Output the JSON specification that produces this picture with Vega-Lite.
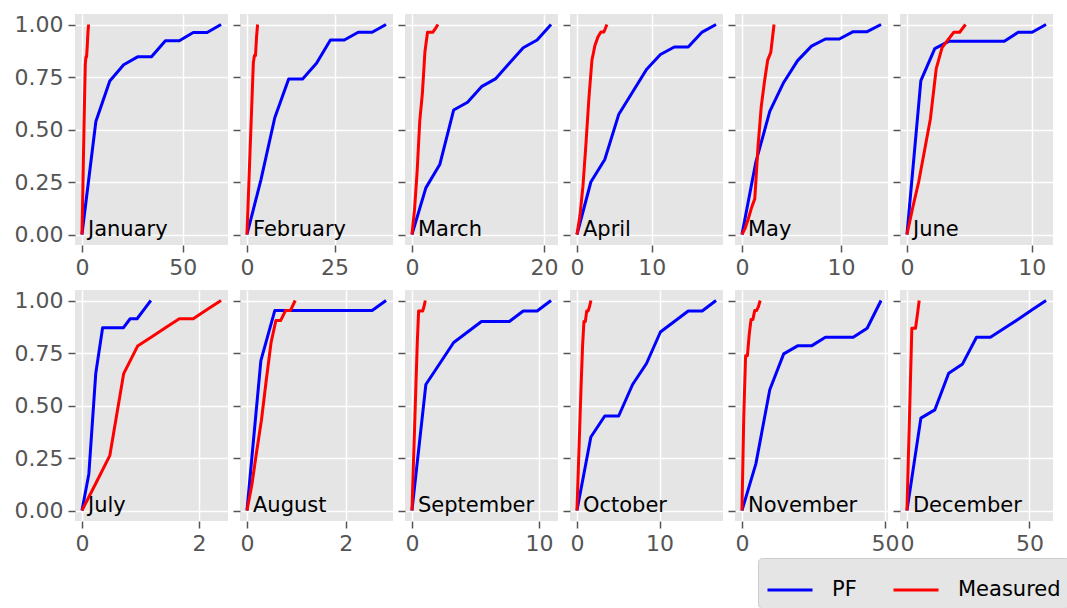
{
"$schema": "https://vega.github.io/schema/vega-lite/v6.json",
"padding": {"left": 14, "top": 13, "right": 0, "bottom": 0},
"background": "white",
"data": {"values": [
{"m":"January","s":"PF","x":0,"y":0},{"m":"January","s":"PF","x":6.9,"y":0.538},{"m":"January","s":"PF","x":13.8,"y":0.731},{"m":"January","s":"PF","x":20.7,"y":0.808},{"m":"January","s":"PF","x":27.6,"y":0.846},{"m":"January","s":"PF","x":34.5,"y":0.846},{"m":"January","s":"PF","x":41.4,"y":0.923},{"m":"January","s":"PF","x":48.3,"y":0.923},{"m":"January","s":"PF","x":55.2,"y":0.962},{"m":"January","s":"PF","x":62.1,"y":0.962},{"m":"January","s":"PF","x":69,"y":1},
{"m":"February","s":"PF","x":0,"y":0},{"m":"February","s":"PF","x":3.97,"y":0.259},{"m":"February","s":"PF","x":7.94,"y":0.556},{"m":"February","s":"PF","x":11.91,"y":0.741},{"m":"February","s":"PF","x":15.88,"y":0.741},{"m":"February","s":"PF","x":19.85,"y":0.815},{"m":"February","s":"PF","x":23.82,"y":0.926},{"m":"February","s":"PF","x":27.79,"y":0.926},{"m":"February","s":"PF","x":31.76,"y":0.963},{"m":"February","s":"PF","x":35.73,"y":0.963},{"m":"February","s":"PF","x":39.7,"y":1},
{"m":"March","s":"PF","x":0,"y":0},{"m":"March","s":"PF","x":2.106,"y":0.222},{"m":"March","s":"PF","x":4.212,"y":0.333},{"m":"March","s":"PF","x":6.318,"y":0.593},{"m":"March","s":"PF","x":8.424,"y":0.63},{"m":"March","s":"PF","x":10.53,"y":0.704},{"m":"March","s":"PF","x":12.636,"y":0.741},{"m":"March","s":"PF","x":14.742,"y":0.815},{"m":"March","s":"PF","x":16.848,"y":0.889},{"m":"March","s":"PF","x":18.954,"y":0.926},{"m":"March","s":"PF","x":21.06,"y":1},
{"m":"April","s":"PF","x":0,"y":0},{"m":"April","s":"PF","x":1.858,"y":0.25},{"m":"April","s":"PF","x":3.716,"y":0.357},{"m":"April","s":"PF","x":5.574,"y":0.571},{"m":"April","s":"PF","x":7.432,"y":0.679},{"m":"April","s":"PF","x":9.29,"y":0.786},{"m":"April","s":"PF","x":11.148,"y":0.857},{"m":"April","s":"PF","x":13.006,"y":0.893},{"m":"April","s":"PF","x":14.864,"y":0.893},{"m":"April","s":"PF","x":16.722,"y":0.964},{"m":"April","s":"PF","x":18.58,"y":1},
{"m":"May","s":"PF","x":0,"y":0},{"m":"May","s":"PF","x":1.405,"y":0.345},{"m":"May","s":"PF","x":2.81,"y":0.586},{"m":"May","s":"PF","x":4.215,"y":0.724},{"m":"May","s":"PF","x":5.62,"y":0.828},{"m":"May","s":"PF","x":7.025,"y":0.897},{"m":"May","s":"PF","x":8.43,"y":0.931},{"m":"May","s":"PF","x":9.835,"y":0.931},{"m":"May","s":"PF","x":11.24,"y":0.966},{"m":"May","s":"PF","x":12.645,"y":0.966},{"m":"May","s":"PF","x":14.05,"y":1},
{"m":"June","s":"PF","x":0,"y":0},{"m":"June","s":"PF","x":1.114,"y":0.733},{"m":"June","s":"PF","x":2.228,"y":0.885},{"m":"June","s":"PF","x":3.342,"y":0.92},{"m":"June","s":"PF","x":4.456,"y":0.92},{"m":"June","s":"PF","x":5.57,"y":0.92},{"m":"June","s":"PF","x":6.684,"y":0.92},{"m":"June","s":"PF","x":7.798,"y":0.92},{"m":"June","s":"PF","x":8.912,"y":0.963},{"m":"June","s":"PF","x":10.026,"y":0.963},{"m":"June","s":"PF","x":11.14,"y":1},
{"m":"July","s":"PF","x":0,"y":0},{"m":"July","s":"PF","x":0.1176,"y":0.174},{"m":"July","s":"PF","x":0.2352,"y":0.652},{"m":"July","s":"PF","x":0.3528,"y":0.87},{"m":"July","s":"PF","x":0.4704,"y":0.87},{"m":"July","s":"PF","x":0.588,"y":0.87},{"m":"July","s":"PF","x":0.7056,"y":0.87},{"m":"July","s":"PF","x":0.8232,"y":0.913},{"m":"July","s":"PF","x":0.9408,"y":0.913},{"m":"July","s":"PF","x":1.0584,"y":0.957},{"m":"July","s":"PF","x":1.176,"y":1},
{"m":"August","s":"PF","x":0,"y":0},{"m":"August","s":"PF","x":0.2815,"y":0.714},{"m":"August","s":"PF","x":0.563,"y":0.952},{"m":"August","s":"PF","x":0.8445,"y":0.952},{"m":"August","s":"PF","x":1.126,"y":0.952},{"m":"August","s":"PF","x":1.4075,"y":0.952},{"m":"August","s":"PF","x":1.689,"y":0.952},{"m":"August","s":"PF","x":1.9705,"y":0.952},{"m":"August","s":"PF","x":2.252,"y":0.952},{"m":"August","s":"PF","x":2.5335,"y":0.952},{"m":"August","s":"PF","x":2.815,"y":1},
{"m":"September","s":"PF","x":0,"y":0},{"m":"September","s":"PF","x":1.094,"y":0.6},{"m":"September","s":"PF","x":2.188,"y":0.7},{"m":"September","s":"PF","x":3.282,"y":0.8},{"m":"September","s":"PF","x":4.376,"y":0.85},{"m":"September","s":"PF","x":5.47,"y":0.9},{"m":"September","s":"PF","x":6.564,"y":0.9},{"m":"September","s":"PF","x":7.658,"y":0.9},{"m":"September","s":"PF","x":8.752,"y":0.95},{"m":"September","s":"PF","x":9.846,"y":0.95},{"m":"September","s":"PF","x":10.94,"y":1},
{"m":"October","s":"PF","x":0,"y":0},{"m":"October","s":"PF","x":1.685,"y":0.35},{"m":"October","s":"PF","x":3.37,"y":0.45},{"m":"October","s":"PF","x":5.055,"y":0.45},{"m":"October","s":"PF","x":6.74,"y":0.6},{"m":"October","s":"PF","x":8.425,"y":0.7},{"m":"October","s":"PF","x":10.11,"y":0.85},{"m":"October","s":"PF","x":11.795,"y":0.9},{"m":"October","s":"PF","x":13.48,"y":0.95},{"m":"October","s":"PF","x":15.165,"y":0.95},{"m":"October","s":"PF","x":16.85,"y":1},
{"m":"November","s":"PF","x":0,"y":0},{"m":"November","s":"PF","x":4.86,"y":0.222},{"m":"November","s":"PF","x":9.72,"y":0.575},{"m":"November","s":"PF","x":14.58,"y":0.746},{"m":"November","s":"PF","x":19.44,"y":0.784},{"m":"November","s":"PF","x":24.3,"y":0.784},{"m":"November","s":"PF","x":29.16,"y":0.825},{"m":"November","s":"PF","x":34.02,"y":0.825},{"m":"November","s":"PF","x":38.88,"y":0.825},{"m":"November","s":"PF","x":43.74,"y":0.868},{"m":"November","s":"PF","x":48.6,"y":1},
{"m":"December","s":"PF","x":0,"y":0},{"m":"December","s":"PF","x":5.676,"y":0.44},{"m":"December","s":"PF","x":11.352,"y":0.479},{"m":"December","s":"PF","x":17.028,"y":0.654},{"m":"December","s":"PF","x":22.704,"y":0.698},{"m":"December","s":"PF","x":28.38,"y":0.825},{"m":"December","s":"PF","x":34.056,"y":0.825},{"m":"December","s":"PF","x":39.732,"y":0.868},{"m":"December","s":"PF","x":45.408,"y":0.911},{"m":"December","s":"PF","x":51.084,"y":0.956},{"m":"December","s":"PF","x":56.76,"y":1},
{"m":"January","s":"Measured","x":0,"y":0},{"m":"January","s":"Measured","x":0.33,"y":0.15},{"m":"January","s":"Measured","x":0.66,"y":0.33},{"m":"January","s":"Measured","x":0.99,"y":0.5},{"m":"January","s":"Measured","x":1.32,"y":0.66},{"m":"January","s":"Measured","x":1.65,"y":0.81},{"m":"January","s":"Measured","x":1.98,"y":0.846},{"m":"January","s":"Measured","x":2.31,"y":0.846},{"m":"January","s":"Measured","x":2.64,"y":0.9},{"m":"January","s":"Measured","x":2.97,"y":0.962},{"m":"January","s":"Measured","x":3.3,"y":1},
{"m":"February","s":"Measured","x":0,"y":0},{"m":"February","s":"Measured","x":0.304,"y":0.136},{"m":"February","s":"Measured","x":0.608,"y":0.273},{"m":"February","s":"Measured","x":0.912,"y":0.409},{"m":"February","s":"Measured","x":1.216,"y":0.545},{"m":"February","s":"Measured","x":1.52,"y":0.681},{"m":"February","s":"Measured","x":1.824,"y":0.818},{"m":"February","s":"Measured","x":2.128,"y":0.852},{"m":"February","s":"Measured","x":2.432,"y":0.852},{"m":"February","s":"Measured","x":2.736,"y":0.94},{"m":"February","s":"Measured","x":3.04,"y":1},
{"m":"March","s":"Measured","x":0,"y":0},{"m":"March","s":"Measured","x":0.393,"y":0.12},{"m":"March","s":"Measured","x":0.786,"y":0.3},{"m":"March","s":"Measured","x":1.179,"y":0.54},{"m":"March","s":"Measured","x":1.572,"y":0.67},{"m":"March","s":"Measured","x":1.965,"y":0.87},{"m":"March","s":"Measured","x":2.358,"y":0.963},{"m":"March","s":"Measured","x":2.751,"y":0.963},{"m":"March","s":"Measured","x":3.144,"y":0.963},{"m":"March","s":"Measured","x":3.537,"y":0.98},{"m":"March","s":"Measured","x":3.93,"y":1},
{"m":"April","s":"Measured","x":0,"y":0},{"m":"April","s":"Measured","x":0.4,"y":0.09},{"m":"April","s":"Measured","x":0.8,"y":0.23},{"m":"April","s":"Measured","x":1.2,"y":0.43},{"m":"April","s":"Measured","x":1.6,"y":0.65},{"m":"April","s":"Measured","x":2.0,"y":0.83},{"m":"April","s":"Measured","x":2.4,"y":0.9},{"m":"April","s":"Measured","x":2.8,"y":0.94},{"m":"April","s":"Measured","x":3.2,"y":0.964},{"m":"April","s":"Measured","x":3.6,"y":0.964},{"m":"April","s":"Measured","x":4.0,"y":1},
{"m":"May","s":"Measured","x":0,"y":0},{"m":"May","s":"Measured","x":0.324,"y":0.03},{"m":"May","s":"Measured","x":0.648,"y":0.076},{"m":"May","s":"Measured","x":0.972,"y":0.128},{"m":"May","s":"Measured","x":1.296,"y":0.17},{"m":"May","s":"Measured","x":1.62,"y":0.417},{"m":"May","s":"Measured","x":1.944,"y":0.607},{"m":"May","s":"Measured","x":2.268,"y":0.726},{"m":"May","s":"Measured","x":2.592,"y":0.829},{"m":"May","s":"Measured","x":2.916,"y":0.868},{"m":"May","s":"Measured","x":3.24,"y":1},
{"m":"June","s":"Measured","x":0,"y":0},{"m":"June","s":"Measured","x":0.469,"y":0.13},{"m":"June","s":"Measured","x":0.938,"y":0.25},{"m":"June","s":"Measured","x":1.407,"y":0.4},{"m":"June","s":"Measured","x":1.876,"y":0.55},{"m":"June","s":"Measured","x":2.345,"y":0.79},{"m":"June","s":"Measured","x":2.814,"y":0.89},{"m":"June","s":"Measured","x":3.283,"y":0.927},{"m":"June","s":"Measured","x":3.752,"y":0.963},{"m":"June","s":"Measured","x":4.221,"y":0.963},{"m":"June","s":"Measured","x":4.69,"y":1},
{"m":"July","s":"Measured","x":0,"y":0},{"m":"July","s":"Measured","x":0.2375,"y":0.13},{"m":"July","s":"Measured","x":0.475,"y":0.261},{"m":"July","s":"Measured","x":0.7125,"y":0.652},{"m":"July","s":"Measured","x":0.95,"y":0.783},{"m":"July","s":"Measured","x":1.1875,"y":0.826},{"m":"July","s":"Measured","x":1.425,"y":0.87},{"m":"July","s":"Measured","x":1.6625,"y":0.913},{"m":"July","s":"Measured","x":1.9,"y":0.913},{"m":"July","s":"Measured","x":2.1375,"y":0.957},{"m":"July","s":"Measured","x":2.375,"y":1},
{"m":"August","s":"Measured","x":0,"y":0},{"m":"August","s":"Measured","x":0.0976,"y":0.12},{"m":"August","s":"Measured","x":0.1952,"y":0.28},{"m":"August","s":"Measured","x":0.2928,"y":0.43},{"m":"August","s":"Measured","x":0.3904,"y":0.62},{"m":"August","s":"Measured","x":0.488,"y":0.8},{"m":"August","s":"Measured","x":0.5856,"y":0.905},{"m":"August","s":"Measured","x":0.6832,"y":0.905},{"m":"August","s":"Measured","x":0.7808,"y":0.952},{"m":"August","s":"Measured","x":0.8784,"y":0.952},{"m":"August","s":"Measured","x":0.976,"y":1},
{"m":"September","s":"Measured","x":0,"y":0},{"m":"September","s":"Measured","x":0.105,"y":0.2},{"m":"September","s":"Measured","x":0.21,"y":0.4},{"m":"September","s":"Measured","x":0.315,"y":0.6},{"m":"September","s":"Measured","x":0.42,"y":0.8},{"m":"September","s":"Measured","x":0.525,"y":0.95},{"m":"September","s":"Measured","x":0.63,"y":0.95},{"m":"September","s":"Measured","x":0.735,"y":0.95},{"m":"September","s":"Measured","x":0.84,"y":0.95},{"m":"September","s":"Measured","x":0.945,"y":0.97},{"m":"September","s":"Measured","x":1.05,"y":1},
{"m":"October","s":"Measured","x":0,"y":0},{"m":"October","s":"Measured","x":0.169,"y":0.2},{"m":"October","s":"Measured","x":0.338,"y":0.4},{"m":"October","s":"Measured","x":0.507,"y":0.6},{"m":"October","s":"Measured","x":0.676,"y":0.78},{"m":"October","s":"Measured","x":0.845,"y":0.9},{"m":"October","s":"Measured","x":1.014,"y":0.9},{"m":"October","s":"Measured","x":1.183,"y":0.95},{"m":"October","s":"Measured","x":1.352,"y":0.95},{"m":"October","s":"Measured","x":1.521,"y":0.97},{"m":"October","s":"Measured","x":1.69,"y":1},
{"m":"November","s":"Measured","x":0,"y":0},{"m":"November","s":"Measured","x":0.637,"y":0.45},{"m":"November","s":"Measured","x":1.274,"y":0.737},{"m":"November","s":"Measured","x":1.911,"y":0.737},{"m":"November","s":"Measured","x":2.548,"y":0.84},{"m":"November","s":"Measured","x":3.185,"y":0.91},{"m":"November","s":"Measured","x":3.822,"y":0.91},{"m":"November","s":"Measured","x":4.459,"y":0.952},{"m":"November","s":"Measured","x":5.096,"y":0.952},{"m":"November","s":"Measured","x":5.733,"y":0.97},{"m":"November","s":"Measured","x":6.37,"y":1},
{"m":"December","s":"Measured","x":0,"y":0},{"m":"December","s":"Measured","x":0.5,"y":0.22},{"m":"December","s":"Measured","x":1.0,"y":0.43},{"m":"December","s":"Measured","x":1.5,"y":0.65},{"m":"December","s":"Measured","x":2.0,"y":0.868},{"m":"December","s":"Measured","x":2.5,"y":0.868},{"m":"December","s":"Measured","x":3.0,"y":0.868},{"m":"December","s":"Measured","x":3.5,"y":0.868},{"m":"December","s":"Measured","x":4.0,"y":0.91},{"m":"December","s":"Measured","x":4.5,"y":0.955},{"m":"December","s":"Measured","x":5.0,"y":1}
]},
"columns": 6,
"spacing": {"row": 45, "column": 12},
"bounds": "flush",
"concat": [
{"width":153,"height":231,"transform":[{"filter":"datum.m==='January'"}],"layer":[
 {"mark":{"type":"line","strokeWidth":3,"strokeJoin":"round"},"encoding":{
  "x":{"field":"x","type":"quantitative","scale":{"domain":[-3.45,72.45],"nice":false,"zero":false},"axis":{"values":[0,50]}},
  "y":{"field":"y","type":"quantitative","scale":{"domain":[-0.05,1.05],"nice":false},"axis":{"values":[0,0.25,0.5,0.75,1],"format":".2f"}},
  "color":{"field":"s","type":"nominal","scale":{"domain":["PF","Measured"],"range":["#0000FF","#FF0000"]},"legend":{"title":null,"orient":"none","legendX":683,"legendY":544,"direction":"horizontal"}}}},
 {"transform":[{"filter":"datum.s==='PF' && datum.x===0"}],"mark":{"type":"text","align":"left","baseline":"alphabetic","dx":6,"dy":1,"fontSize":21,"font":"DejaVu Sans","color":"black"},"encoding":{"x":{"field":"x","type":"quantitative"},"y":{"field":"y","type":"quantitative"},"text":{"field":"m"}}}]},
{"width":153,"height":231,"transform":[{"filter":"datum.m==='February'"}],"layer":[
 {"mark":{"type":"line","strokeWidth":3,"strokeJoin":"round"},"encoding":{
  "x":{"field":"x","type":"quantitative","scale":{"domain":[-1.985,41.685],"nice":false,"zero":false},"axis":{"values":[0,25]}},
  "y":{"field":"y","type":"quantitative","scale":{"domain":[-0.05,1.05],"nice":false},"axis":{"values":[0,0.25,0.5,0.75,1],"labels":false}},
  "color":{"field":"s","type":"nominal","scale":{"domain":["PF","Measured"],"range":["#0000FF","#FF0000"]},"legend":{"title":null,"orient":"none","legendX":683,"legendY":544,"direction":"horizontal"}}}},
 {"transform":[{"filter":"datum.s==='PF' && datum.x===0"}],"mark":{"type":"text","align":"left","baseline":"alphabetic","dx":6,"dy":1,"fontSize":21,"font":"DejaVu Sans","color":"black"},"encoding":{"x":{"field":"x","type":"quantitative"},"y":{"field":"y","type":"quantitative"},"text":{"field":"m"}}}]},
{"width":153,"height":231,"transform":[{"filter":"datum.m==='March'"}],"layer":[
 {"mark":{"type":"line","strokeWidth":3,"strokeJoin":"round"},"encoding":{
  "x":{"field":"x","type":"quantitative","scale":{"domain":[-1.053,22.113],"nice":false,"zero":false},"axis":{"values":[0,20]}},
  "y":{"field":"y","type":"quantitative","scale":{"domain":[-0.05,1.05],"nice":false},"axis":{"values":[0,0.25,0.5,0.75,1],"labels":false}},
  "color":{"field":"s","type":"nominal","scale":{"domain":["PF","Measured"],"range":["#0000FF","#FF0000"]},"legend":{"title":null,"orient":"none","legendX":683,"legendY":544,"direction":"horizontal"}}}},
 {"transform":[{"filter":"datum.s==='PF' && datum.x===0"}],"mark":{"type":"text","align":"left","baseline":"alphabetic","dx":6,"dy":1,"fontSize":21,"font":"DejaVu Sans","color":"black"},"encoding":{"x":{"field":"x","type":"quantitative"},"y":{"field":"y","type":"quantitative"},"text":{"field":"m"}}}]},
{"width":153,"height":231,"transform":[{"filter":"datum.m==='April'"}],"layer":[
 {"mark":{"type":"line","strokeWidth":3,"strokeJoin":"round"},"encoding":{
  "x":{"field":"x","type":"quantitative","scale":{"domain":[-0.929,19.509],"nice":false,"zero":false},"axis":{"values":[0,10]}},
  "y":{"field":"y","type":"quantitative","scale":{"domain":[-0.05,1.05],"nice":false},"axis":{"values":[0,0.25,0.5,0.75,1],"labels":false}},
  "color":{"field":"s","type":"nominal","scale":{"domain":["PF","Measured"],"range":["#0000FF","#FF0000"]},"legend":{"title":null,"orient":"none","legendX":683,"legendY":544,"direction":"horizontal"}}}},
 {"transform":[{"filter":"datum.s==='PF' && datum.x===0"}],"mark":{"type":"text","align":"left","baseline":"alphabetic","dx":6,"dy":1,"fontSize":21,"font":"DejaVu Sans","color":"black"},"encoding":{"x":{"field":"x","type":"quantitative"},"y":{"field":"y","type":"quantitative"},"text":{"field":"m"}}}]},
{"width":153,"height":231,"transform":[{"filter":"datum.m==='May'"}],"layer":[
 {"mark":{"type":"line","strokeWidth":3,"strokeJoin":"round"},"encoding":{
  "x":{"field":"x","type":"quantitative","scale":{"domain":[-0.7025,14.7525],"nice":false,"zero":false},"axis":{"values":[0,10]}},
  "y":{"field":"y","type":"quantitative","scale":{"domain":[-0.05,1.05],"nice":false},"axis":{"values":[0,0.25,0.5,0.75,1],"labels":false}},
  "color":{"field":"s","type":"nominal","scale":{"domain":["PF","Measured"],"range":["#0000FF","#FF0000"]},"legend":{"title":null,"orient":"none","legendX":683,"legendY":544,"direction":"horizontal"}}}},
 {"transform":[{"filter":"datum.s==='PF' && datum.x===0"}],"mark":{"type":"text","align":"left","baseline":"alphabetic","dx":6,"dy":1,"fontSize":21,"font":"DejaVu Sans","color":"black"},"encoding":{"x":{"field":"x","type":"quantitative"},"y":{"field":"y","type":"quantitative"},"text":{"field":"m"}}}]},
{"width":153,"height":231,"transform":[{"filter":"datum.m==='June'"}],"layer":[
 {"mark":{"type":"line","strokeWidth":3,"strokeJoin":"round"},"encoding":{
  "x":{"field":"x","type":"quantitative","scale":{"domain":[-0.557,11.697],"nice":false,"zero":false},"axis":{"values":[0,10]}},
  "y":{"field":"y","type":"quantitative","scale":{"domain":[-0.05,1.05],"nice":false},"axis":{"values":[0,0.25,0.5,0.75,1],"labels":false}},
  "color":{"field":"s","type":"nominal","scale":{"domain":["PF","Measured"],"range":["#0000FF","#FF0000"]},"legend":{"title":null,"orient":"none","legendX":683,"legendY":544,"direction":"horizontal"}}}},
 {"transform":[{"filter":"datum.s==='PF' && datum.x===0"}],"mark":{"type":"text","align":"left","baseline":"alphabetic","dx":6,"dy":1,"fontSize":21,"font":"DejaVu Sans","color":"black"},"encoding":{"x":{"field":"x","type":"quantitative"},"y":{"field":"y","type":"quantitative"},"text":{"field":"m"}}}]},
{"width":153,"height":231,"transform":[{"filter":"datum.m==='July'"}],"layer":[
 {"mark":{"type":"line","strokeWidth":3,"strokeJoin":"round"},"encoding":{
  "x":{"field":"x","type":"quantitative","scale":{"domain":[-0.119,2.494],"nice":false,"zero":false},"axis":{"values":[0,2],"format":"d"}},
  "y":{"field":"y","type":"quantitative","scale":{"domain":[-0.05,1.05],"nice":false},"axis":{"values":[0,0.25,0.5,0.75,1],"format":".2f"}},
  "color":{"field":"s","type":"nominal","scale":{"domain":["PF","Measured"],"range":["#0000FF","#FF0000"]},"legend":{"title":null,"orient":"none","legendX":683,"legendY":544,"direction":"horizontal"}}}},
 {"transform":[{"filter":"datum.s==='PF' && datum.x===0"}],"mark":{"type":"text","align":"left","baseline":"alphabetic","dx":6,"dy":1,"fontSize":21,"font":"DejaVu Sans","color":"black"},"encoding":{"x":{"field":"x","type":"quantitative"},"y":{"field":"y","type":"quantitative"},"text":{"field":"m"}}}]},
{"width":153,"height":231,"transform":[{"filter":"datum.m==='August'"}],"layer":[
 {"mark":{"type":"line","strokeWidth":3,"strokeJoin":"round"},"encoding":{
  "x":{"field":"x","type":"quantitative","scale":{"domain":[-0.141,2.956],"nice":false,"zero":false},"axis":{"values":[0,2],"format":"d"}},
  "y":{"field":"y","type":"quantitative","scale":{"domain":[-0.05,1.05],"nice":false},"axis":{"values":[0,0.25,0.5,0.75,1],"labels":false}},
  "color":{"field":"s","type":"nominal","scale":{"domain":["PF","Measured"],"range":["#0000FF","#FF0000"]},"legend":{"title":null,"orient":"none","legendX":683,"legendY":544,"direction":"horizontal"}}}},
 {"transform":[{"filter":"datum.s==='PF' && datum.x===0"}],"mark":{"type":"text","align":"left","baseline":"alphabetic","dx":6,"dy":1,"fontSize":21,"font":"DejaVu Sans","color":"black"},"encoding":{"x":{"field":"x","type":"quantitative"},"y":{"field":"y","type":"quantitative"},"text":{"field":"m"}}}]},
{"width":153,"height":231,"transform":[{"filter":"datum.m==='September'"}],"layer":[
 {"mark":{"type":"line","strokeWidth":3,"strokeJoin":"round"},"encoding":{
  "x":{"field":"x","type":"quantitative","scale":{"domain":[-0.547,11.487],"nice":false,"zero":false},"axis":{"values":[0,10]}},
  "y":{"field":"y","type":"quantitative","scale":{"domain":[-0.05,1.05],"nice":false},"axis":{"values":[0,0.25,0.5,0.75,1],"labels":false}},
  "color":{"field":"s","type":"nominal","scale":{"domain":["PF","Measured"],"range":["#0000FF","#FF0000"]},"legend":{"title":null,"orient":"none","legendX":683,"legendY":544,"direction":"horizontal"}}}},
 {"transform":[{"filter":"datum.s==='PF' && datum.x===0"}],"mark":{"type":"text","align":"left","baseline":"alphabetic","dx":6,"dy":1,"fontSize":21,"font":"DejaVu Sans","color":"black"},"encoding":{"x":{"field":"x","type":"quantitative"},"y":{"field":"y","type":"quantitative"},"text":{"field":"m"}}}]},
{"width":153,"height":231,"transform":[{"filter":"datum.m==='October'"}],"layer":[
 {"mark":{"type":"line","strokeWidth":3,"strokeJoin":"round"},"encoding":{
  "x":{"field":"x","type":"quantitative","scale":{"domain":[-0.8425,17.6925],"nice":false,"zero":false},"axis":{"values":[0,10]}},
  "y":{"field":"y","type":"quantitative","scale":{"domain":[-0.05,1.05],"nice":false},"axis":{"values":[0,0.25,0.5,0.75,1],"labels":false}},
  "color":{"field":"s","type":"nominal","scale":{"domain":["PF","Measured"],"range":["#0000FF","#FF0000"]},"legend":{"title":null,"orient":"none","legendX":683,"legendY":544,"direction":"horizontal"}}}},
 {"transform":[{"filter":"datum.s==='PF' && datum.x===0"}],"mark":{"type":"text","align":"left","baseline":"alphabetic","dx":6,"dy":1,"fontSize":21,"font":"DejaVu Sans","color":"black"},"encoding":{"x":{"field":"x","type":"quantitative"},"y":{"field":"y","type":"quantitative"},"text":{"field":"m"}}}]},
{"width":153,"height":231,"transform":[{"filter":"datum.m==='November'"}],"layer":[
 {"mark":{"type":"line","strokeWidth":3,"strokeJoin":"round"},"encoding":{
  "x":{"field":"x","type":"quantitative","scale":{"domain":[-2.43,51.03],"nice":false,"zero":false},"axis":{"values":[0,50]}},
  "y":{"field":"y","type":"quantitative","scale":{"domain":[-0.05,1.05],"nice":false},"axis":{"values":[0,0.25,0.5,0.75,1],"labels":false}},
  "color":{"field":"s","type":"nominal","scale":{"domain":["PF","Measured"],"range":["#0000FF","#FF0000"]},"legend":{"title":null,"orient":"none","legendX":683,"legendY":544,"direction":"horizontal"}}}},
 {"transform":[{"filter":"datum.s==='PF' && datum.x===0"}],"mark":{"type":"text","align":"left","baseline":"alphabetic","dx":6,"dy":1,"fontSize":21,"font":"DejaVu Sans","color":"black"},"encoding":{"x":{"field":"x","type":"quantitative"},"y":{"field":"y","type":"quantitative"},"text":{"field":"m"}}}]},
{"width":153,"height":231,"transform":[{"filter":"datum.m==='December'"}],"layer":[
 {"mark":{"type":"line","strokeWidth":3,"strokeJoin":"round"},"encoding":{
  "x":{"field":"x","type":"quantitative","scale":{"domain":[-2.838,59.598],"nice":false,"zero":false},"axis":{"values":[0,50]}},
  "y":{"field":"y","type":"quantitative","scale":{"domain":[-0.05,1.05],"nice":false},"axis":{"values":[0,0.25,0.5,0.75,1],"labels":false}},
  "color":{"field":"s","type":"nominal","scale":{"domain":["PF","Measured"],"range":["#0000FF","#FF0000"]},"legend":{"title":null,"orient":"none","legendX":683,"legendY":544,"direction":"horizontal"}}}},
 {"transform":[{"filter":"datum.s==='PF' && datum.x===0"}],"mark":{"type":"text","align":"left","baseline":"alphabetic","dx":6,"dy":1,"fontSize":21,"font":"DejaVu Sans","color":"black"},"encoding":{"x":{"field":"x","type":"quantitative"},"y":{"field":"y","type":"quantitative"},"text":{"field":"m"}}}]}
],
"config": {
 "view": {"fill": "#E5E5E5", "stroke": null},
 "axis": {"domain": false, "grid": true, "gridColor": "#FFFFFF", "gridWidth": 1.5, "tickColor": "#555555", "tickSize": 7, "tickWidth": 1.5, "labelColor": "#555555", "labelFont": "DejaVu Sans", "labelFontSize": 22, "labelPadding": 5, "title": null, "labelFlush": false},
 "legend": {"labelFont": "DejaVu Sans", "labelFontSize": 21, "labelColor": "#000000", "symbolType": "stroke", "symbolSize": 2025, "symbolStrokeWidth": 3, "fillColor": "#E5E5E5", "strokeColor": "#CCCCCC", "padding": 8, "cornerRadius": 4, "labelOffset": 18, "columnPadding": 30}
}
}
